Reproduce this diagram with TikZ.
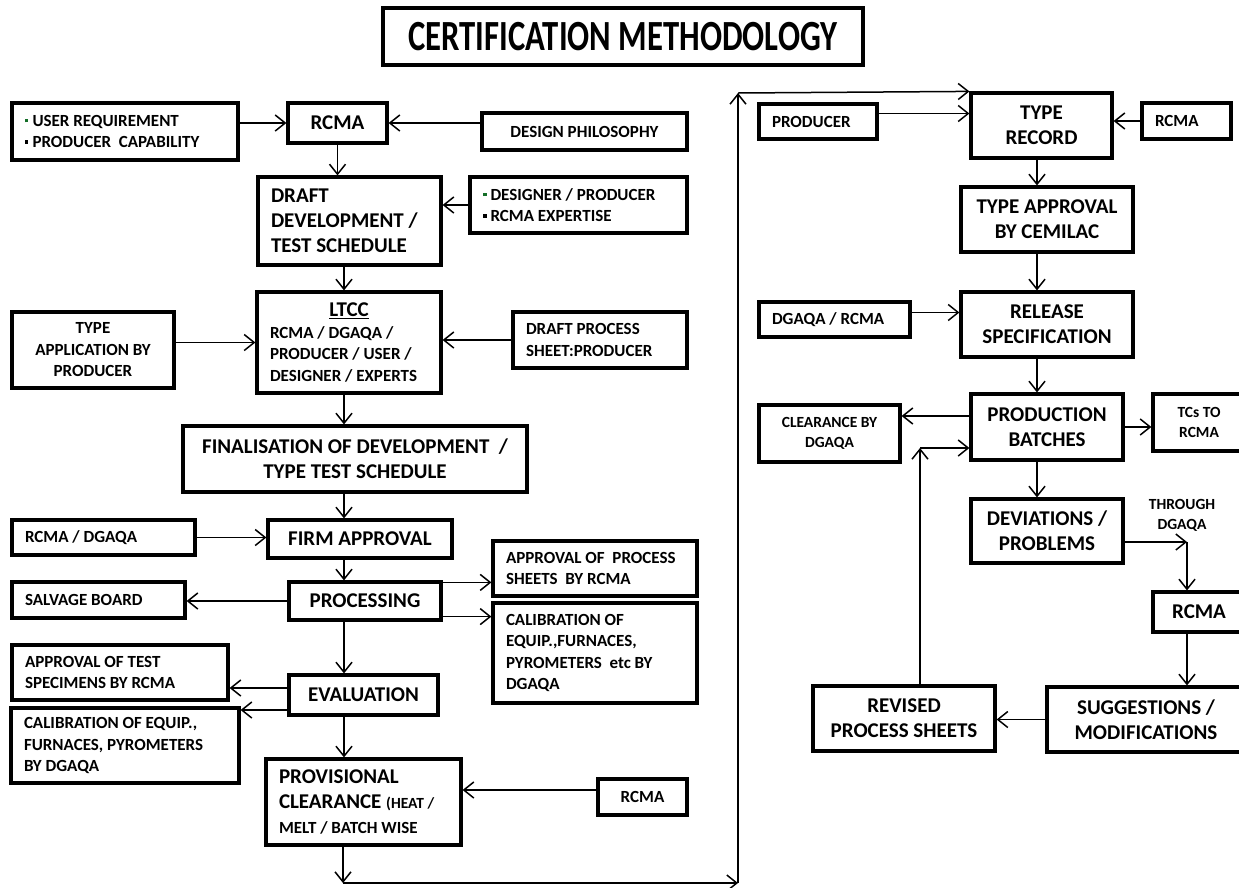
\documentclass[tikz,border=0pt]{standalone}
\usepackage{fontspec}
\setmainfont{Carlito}
\newfontfamily\titlefont{Carlito}[FakeStretch=0.76]
\usetikzlibrary{arrows.meta}

\definecolor{bulletgreen}{RGB}{20,110,40}
\newcommand\bigf{\fontsize{21}{25}\selectfont\bfseries}
\newcommand\smallf{\fontsize{17}{21.5}\selectfont\bfseries}
\newcommand\tinyf{\fontsize{15.5}{20}\selectfont\bfseries}
\newcommand\grnbul{\textcolor{bulletgreen}{\rule[4pt]{3.5pt}{3.5pt}}\hspace{4pt}}
\newcommand\blkbul{\rule[4pt]{3.5pt}{3.5pt}\hspace{4pt}}

\begin{document}
\begin{tikzpicture}[x=1pt,y=-1pt,
>={Straight Barb[length=10pt,width=16pt]},
box/.style = {
shape          = rectangle,
draw,
line width     = 3.2pt,
inner xsep     = 13pt,
inner ysep     = 2pt,
align          = center,
text           = black},
bigbox/.style   = {box, font=\bigf},
smallbox/.style = {box, font=\smallf},
tinybox/.style  = {box, font=\tinyf},
arr/.style      = {->, line width=1.5pt, black}
]
\useasboundingbox (0,0) rectangle (1239,887);
\coordinate (spine) at (344,0);
\coordinate (rspine) at (1037,0);
%
\node[box, font=\titlefont\fontsize{43}{48}\selectfont\bfseries, minimum width=480, minimum height=57] (nTitle) at (623,36.5) {CERTIFICATION METHODOLOGY};
%
\node[smallbox, align=flush left, text width=200, minimum height=57] (nNeeds) at (125,131.5) {\grnbul USER REQUIREMENT\\\blkbul PRODUCER~ CAPABILITY};
\node[bigbox, minimum width=99, minimum height=40] (nRCMAa) at (337.5,123) {RCMA};
\node[smallbox, minimum width=205, minimum height=37] (nPhil) at (584.5,131.5) {DESIGN PHILOSOPHY};
\node[bigbox, align=flush left, text width=157, minimum height=88] (nDraft) at (349.5,221) {DRAFT\\DEVELOPMENT /\\TEST SCHEDULE};
\node[smallbox, align=flush left, text width=191, minimum height=56] (nDesign) at (578.5,205) {\grnbul DESIGNER / PRODUCER\\\blkbul RCMA EXPERTISE};
\node[smallbox, minimum width=162, minimum height=76] (nTypeApp) at (93,350) {TYPE\\APPLICATION BY\\PRODUCER};
\node[smallbox, align=flush left, text width=158, minimum height=101] (nLTCC) at (349,342.5) {\makebox[158pt]{\bigf\underline{LTCC}}\\RCMA / DGAQA /\\PRODUCER / USER /\\DESIGNER / EXPERTS};
\node[smallbox, align=flush left, text width=148, minimum height=56] (nDPS) at (600,340) {DRAFT PROCESS\\SHEET:PRODUCER};
\node[bigbox, minimum width=344, minimum height=66] (nFinal) at (355,459) {FINALISATION OF DEVELOPMENT~ /\\TYPE TEST SCHEDULE};
\node[smallbox, align=flush left, text width=157, minimum height=35] (nRD) at (103.5,537.5) {RCMA / DGAQA};
\node[bigbox, minimum width=184, minimum height=38] (nFirm) at (360,539) {FIRM APPROVAL};
\node[smallbox, align=flush left, text width=147, minimum height=36] (nSalv) at (98.5,600) {SALVAGE BOARD};
\node[bigbox, minimum width=152, minimum height=38] (nProc) at (365,601) {PROCESSING};
\node[smallbox, align=flush left, text width=178, minimum height=55] (nAPS) at (595,568.5) {APPROVAL OF~ PROCESS\\SHEETS~ BY RCMA};
\node[smallbox, align=flush left, text width=178, minimum height=100] (nCalA) at (595,653) {CALIBRATION OF\\EQUIP.,FURNACES,\\PYROMETERS~ etc BY\\DGAQA};
\node[smallbox, align=flush left, text width=190, minimum height=55] (nATS) at (120,672.5) {APPROVAL OF TEST\\SPECIMENS BY RCMA};
\node[bigbox, minimum width=149, minimum height=40] (nEval) at (363.5,695) {EVALUATION};
\node[smallbox, align=flush left, text width=202, minimum height=75] (nCalB) at (125,745.5) {CALIBRATION OF EQUIP.,\\FURNACES, PYROMETERS\\BY DGAQA};
\node[bigbox, align=flush left, text width=169, minimum height=86] (nProv) at (363.5,802) {PROVISIONAL\\CLEARANCE {\tinyf(HEAT /}\\{\smallf MELT / BATCH WISE}};
\node[smallbox, minimum width=89, minimum height=36] (nRCMAb) at (642.5,797) {RCMA};
%
\node[smallbox, align=flush left, text width=92, minimum height=35] (nProd) at (818,121.5) {PRODUCER};
\node[bigbox, minimum width=141, minimum height=65] (nTRec) at (1041.5,125.5) {TYPE\\RECORD};
\node[smallbox, align=flush left, text width=63, minimum height=36] (nRCMAc) at (1186.5,121) {RCMA};
\node[bigbox, minimum width=172, minimum height=65] (nTApp) at (1047,219.5) {TYPE APPROVAL\\BY CEMILAC};
\node[bigbox, minimum width=172, minimum height=65] (nRel) at (1047,324.5) {RELEASE\\SPECIFICATION};
\node[smallbox, align=flush left, text width=125, minimum height=35] (nDR) at (834.5,319.5) {DGAQA / RCMA};
\node[bigbox, minimum width=152, minimum height=66] (nPB) at (1047,427) {PRODUCTION\\BATCHES};
\node[tinybox, minimum width=141, minimum height=57] (nClr) at (829.5,433.5) {CLEARANCE BY\\DGAQA};
\node[tinybox, minimum width=92, minimum height=57] (nTCs) at (1199,422.5) {TCs TO\\RCMA};
\node[bigbox, minimum width=152, minimum height=64] (nDev) at (1047,531) {DEVIATIONS /\\PROBLEMS};
\node[font=\tinyf, align=center] (nThr) at (1182,515) {THROUGH\\DGAQA};
\node[bigbox, minimum width=92, minimum height=40] (nRCMAd) at (1199,612) {RCMA};
\node[bigbox, minimum width=198, minimum height=65] (nSugg) at (1146,719.5) {SUGGESTIONS /\\MODIFICATIONS};
\node[bigbox, minimum width=182, minimum height=65] (nRev) at (904,718.5) {REVISED\\PROCESS SHEETS};
%
\coordinate (cBotL) at (343,883);
\coordinate (cBotR) at (738,883);
\coordinate (cTopL) at (738,93);
\coordinate (cThr) at (1187,542);
\coordinate (cFb) at (920,448);
%
\draw[arr] (nNeeds.east |- nRCMAa.west) -- (nRCMAa.west);
\draw[arr] (nPhil.west |- nRCMAa.east) -- (nRCMAa.east);
\draw[arr] (nRCMAa.south) -- (nRCMAa.south |- nDraft.north);
\draw[arr] (nDesign.west) -- (nDesign.west -| nDraft.east);
\draw[arr] (nDraft.south -| spine) -- (nLTCC.north -| spine);
\draw[arr] (nTypeApp.east |- nLTCC.west) -- (nLTCC.west);
\draw[arr] (nDPS.west) -- (nDPS.west -| nLTCC.east);
\draw[arr] (nLTCC.south -| spine) -- (nFinal.north -| spine);
\draw[arr] (nFinal.south -| spine) -- (nFirm.north -| spine);
\draw[arr] (nRD.east) -- (nRD.east -| nFirm.west);
\draw[arr] (nFirm.south -| spine) -- (nProc.north -| spine);
\draw[arr] (nProc.west) -- (nProc.west -| nSalv.east);
\draw[arr] ([yshift=-2pt]nProc.north east) -- ([yshift=-2pt]nProc.north east -| nAPS.west);
\draw[arr] ([yshift=5pt]nProc.south east) -- ([yshift=5pt]nProc.south east -| nCalA.west);
\draw[arr] (nProc.south -| spine) -- (nEval.north -| spine);
\draw[arr] ([yshift=7pt]nEval.west) -- ([yshift=7pt]nEval.west -| nATS.east);
\draw[arr] ([yshift=-15pt]nEval.west) -- ([yshift=-15pt]nEval.west -| nCalB.east);
\draw[arr] (nEval.south -| spine) -- (nProv.north -| spine);
\draw[arr] ([yshift=7pt]nRCMAb.west) -- ([yshift=7pt]nRCMAb.west -| nProv.east);
\draw[arr] (nProv.south -| cBotL) -- (cBotL);
\draw[arr] (cBotL) -- (cBotR);
\draw[arr] (cBotR) -- (cTopL);
\draw[arr] (cTopL) -- (nTRec.north west);
%
\draw[arr] ([yshift=8pt]nProd.east) -- ([yshift=8pt]nProd.east -| nTRec.west);
\draw[arr] (nRCMAc.west) -- (nRCMAc.west -| nTRec.east);
\draw[arr] (nTRec.south -| rspine) -- (nTApp.north -| rspine);
\draw[arr] (nTApp.south -| rspine) -- (nRel.north -| rspine);
\draw[arr] ([yshift=7pt]nDR.east) -- ([yshift=7pt]nDR.east -| nRel.west);
\draw[arr] (nRel.south -| rspine) -- (nPB.north -| rspine);
\draw[arr] ([yshift=11pt]nPB.west) -- ([yshift=11pt]nPB.west -| nClr.east);
\draw[arr] (nPB.east) -- (nPB.east -| nTCs.west);
\draw[arr] (nPB.south -| rspine) -- (nDev.north -| rspine);
\draw[arr] ([yshift=-11pt]nDev.east) -- (cThr);
\draw[arr] (cThr) -- (cThr |- nRCMAd.north);
\draw[arr] (cThr |- nRCMAd.south) -- (cThr |- nSugg.north);
\draw[arr] (nSugg.west) -- (nSugg.west -| nRev.east);
\draw[arr] (nRev.north -| cFb) -- (cFb);
\draw[arr] (cFb) -- (cFb -| nPB.west);
%
\end{tikzpicture}
\end{document}
